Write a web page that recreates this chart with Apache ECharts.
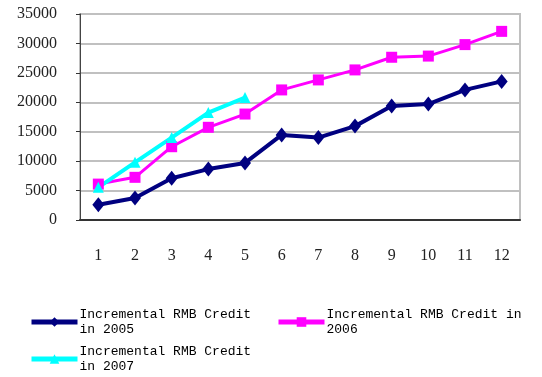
<!DOCTYPE html>
<html>
<head>
<meta charset="utf-8">
<script src="https://cdn.jsdelivr.net/npm/echarts@6/dist/echarts.min.js"></script>
<style>
  html, body { margin: 0; padding: 0; background: #fff; }
  #chart { width: 542px; height: 377px; }
</style>
</head>
<body>
<div id="chart"></div>
<script>
var months = ['1', '2', '3', '4', '5', '6', '7', '8', '9', '10', '11', '12'];
var credit2005 = [2600, 3750, 7100, 8650, 9700, 14450, 14000, 15950, 19350, 19700, 22100, 23550];
var credit2006 = [6100, 7250, 12450, 15750, 18000, 22100, 23800, 25500, 27650, 27850, 29800, 32050];
var credit2007 = [5550, 9800, 14000, 18250, 20800];
var names = ['Incremental RMB Credit\nin 2005', 'Incremental RMB Credit in\n2006', 'Incremental RMB Credit\nin 2007'];

var dom = document.getElementById('chart');
var myChart = echarts.init(dom);
var option;

var legendText = { fontFamily: 'Liberation Mono', fontSize: 13, color: '#000', lineHeight: 15, padding: [0, 0, 0, -3] };

option = {
  animation: false,
  backgroundColor: '#fff',
  grid: { left: 80, right: 22, top: 14, bottom: 157, show: true, borderColor: '#c0c0c0', borderWidth: 2 },
  legend: [
    { data: [names[0]], left: 24, top: 302, itemWidth: 46, itemHeight: 12, itemGap: 0, textStyle: legendText, lineStyle: { width: 5 } },
    { data: [names[1]], left: 271, top: 302, itemWidth: 46, itemHeight: 12, itemGap: 0, textStyle: legendText, lineStyle: { width: 5 } },
    { data: [names[2]], left: 24, top: 339, itemWidth: 46, itemHeight: 12, itemGap: 0, textStyle: legendText, lineStyle: { width: 5 } }
  ],
  xAxis: {
    type: 'category',
    data: months,
    boundaryGap: true,
    axisLine: { lineStyle: { color: '#333', width: 2 } },
    axisTick: { inside: true, length: 5, lineStyle: { color: '#333' } },
    axisLabel: { margin: 28, fontFamily: 'Liberation Serif', fontSize: 16, color: '#222' }
  },
  yAxis: {
    type: 'value',
    min: 0,
    max: 35000,
    interval: 5000,
    axisLine: { show: true, lineStyle: { color: '#444', width: 1 } },
    axisTick: { show: true, length: 4, lineStyle: { color: '#333' } },
    axisLabel: { margin: 23, fontFamily: 'Liberation Serif', fontSize: 16, color: '#222', formatter: function (v) { return String(v); } },
    splitLine: { lineStyle: { color: '#c0c0c0', width: 2 } }
  },
  series: [
    {
      name: names[0], type: 'line', data: credit2005,
      symbol: 'diamond', symbolSize: [12, 15],
      itemStyle: { color: '#000080' }, lineStyle: { color: '#000080', width: 4 }
    },
    {
      name: names[1], type: 'line', data: credit2006,
      symbol: 'rect', symbolSize: 11,
      itemStyle: { color: '#ff00ff' }, lineStyle: { color: '#ff00ff', width: 3 }
    },
    {
      name: names[2], type: 'line', data: credit2007,
      symbol: 'triangle', symbolSize: 11,
      itemStyle: { color: '#00ffff' }, lineStyle: { color: '#00ffff', width: 4 }
    }
  ]
};

if (option && typeof option === 'object') {
  myChart.setOption(option);
}
</script>
</body>
</html>
